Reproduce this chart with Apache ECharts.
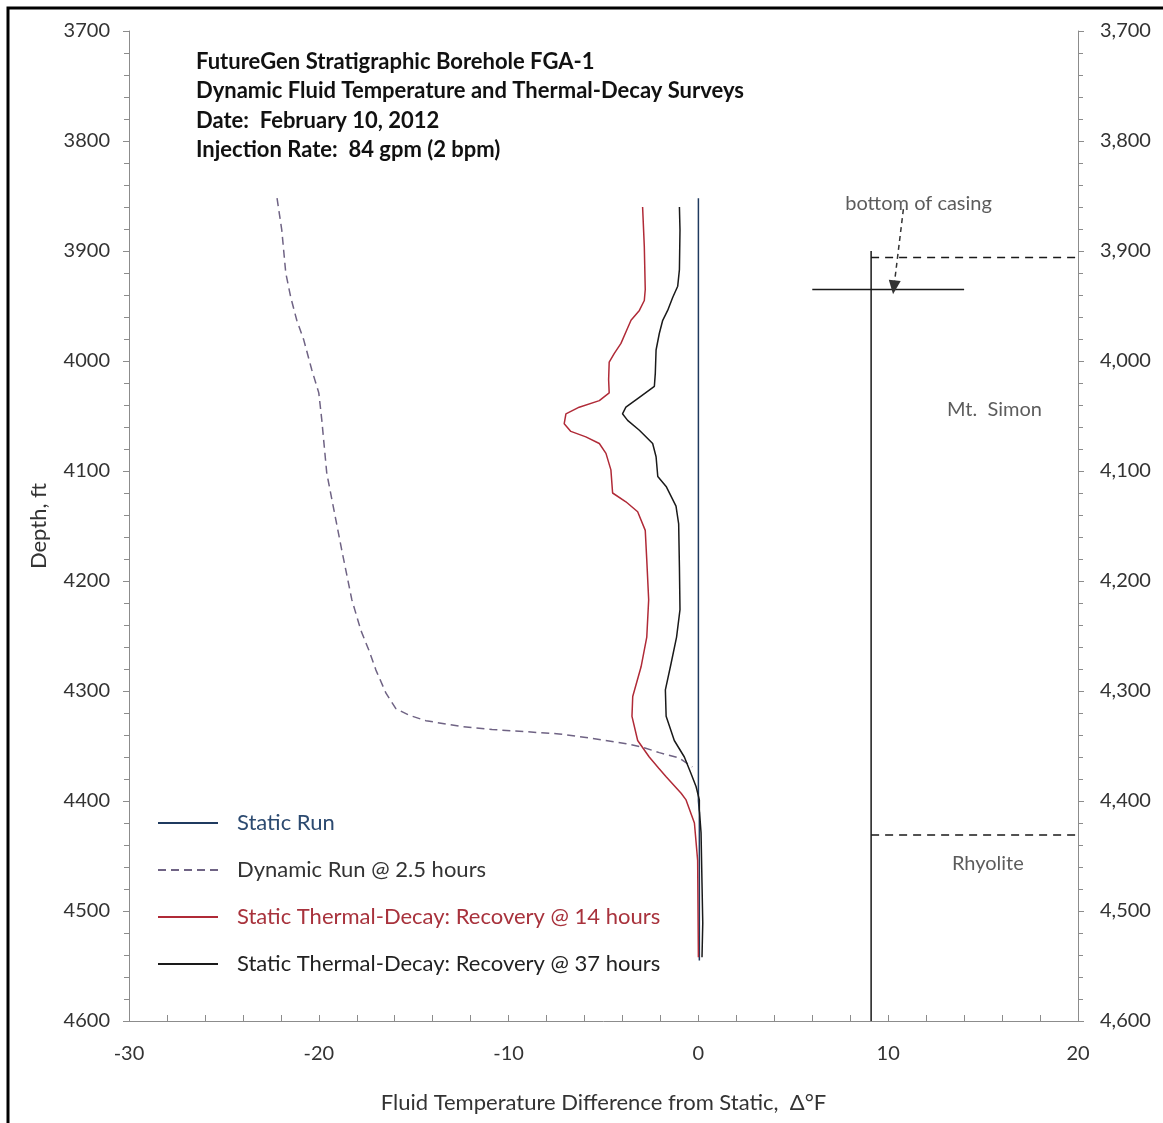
<!DOCTYPE html>
<html><head><meta charset="utf-8">
<script src="https://cdn.jsdelivr.net/npm/echarts@6/dist/echarts.min.js"></script>
<style>html,body{margin:0;padding:0;background:#fff}#c{width:1163px;height:1123px}</style>
</head><body><div id="c"></div>
<script>
// ---- data ----
const titleLines = ["FutureGen Stratigraphic Borehole FGA-1","Dynamic Fluid Temperature and Thermal-Decay Surveys","Date:  February 10, 2012","Injection Rate:  84 gpm (2 bpm)"];
const seriesNames = ["Static Run","Dynamic Run @ 2.5 hours","Static Thermal-Decay: Recovery @ 14 hours","Static Thermal-Decay: Recovery @ 37 hours"];

const staticDepth = [3852, 4400, 4410, 4545];
const staticVal   = [0, 0, 0.05, 0.05];

const dynDepth = [3852,3881,3920,3942,3963,3981,4008,4029,4054,4102,4126,4172,4217,4245,4263,4281,4302,4316,4322,4327,4332,4335,4337,4339,4343,4348,4351,4356,4361,4369];
const dynVal   = [-22.2,-21.95,-21.74,-21.48,-21.16,-20.79,-20.37,-20.0,-19.84,-19.58,-19.31,-18.79,-18.26,-17.78,-17.36,-16.99,-16.46,-15.94,-15.25,-14.35,-12.61,-10.87,-9.08,-7.34,-5.59,-3.80,-2.96,-2.06,-1.0,-0.32];

const r14Depth = [3860,3896,3935,3945,3954,3963,3972,3984,3993,4001,4017,4029,4036,4042,4048,4057,4064,4069,4075,4084,4099,4120,4128,4137,4154,4181,4217,4251,4278,4305,4323,4345,4360,4370,4378,4393,4399,4420,4454,4542];
const r14Val   = [-2.94,-2.85,-2.80,-2.85,-3.11,-3.55,-3.78,-4.08,-4.43,-4.70,-4.73,-4.70,-5.22,-6.28,-6.98,-7.07,-6.72,-5.93,-5.22,-4.87,-4.61,-4.52,-3.82,-3.20,-2.80,-2.72,-2.62,-2.72,-3.02,-3.46,-3.50,-3.20,-2.59,-2.1,-1.70,-0.91,-0.65,-0.21,-0.04,0.0];

const r37Depth = [3860,3881,3917,3932,3942,3954,3963,3975,3990,4011,4023,4033,4042,4048,4054,4063,4075,4087,4105,4114,4132,4148,4187,4226,4251,4275,4299,4323,4345,4360,4375,4387,4399,4408,4429,4475,4511,4542];
const r37Val   = [-1.0,-0.97,-1.0,-1.09,-1.35,-1.62,-1.88,-2.06,-2.23,-2.27,-2.32,-3.11,-3.82,-4.0,-3.73,-3.11,-2.41,-2.23,-2.14,-1.70,-1.18,-1.04,-1.0,-0.97,-1.15,-1.44,-1.74,-1.70,-1.27,-0.74,-0.39,-0.12,0.05,0.05,0.14,0.19,0.23,0.19];

// annotation values (data coordinates)
const formationX = 9.1, formationTop = 3900, depthMax = 4600, xMax = 20;
const boundaryDepths = [3906, 4431];
const casingDepth = 3935, casingFrom = 6, casingTo = 14;
const arrowFrom = [10.8, 3862], arrowTo = [10.3, 3933];
const annoLabels = [{text:"bottom of casing", x:11.6, d:3857},{text:"Mt.  Simon", x:15.6, d:4044},{text:"Rhyolite", x:15.25, d:4457}];

// ---- chart ----
const FONT = "Lato";
const zip = (v,d)=>v.map((x,i)=>[x,d[i]]);
const axisGray = '#8c8c8c';
const chart = echarts.init(document.getElementById('c'));

const series = [
  {name:seriesNames[0], type:'line', data:zip(staticVal,staticDepth), symbol:'none', lineStyle:{color:'#1f3a5f',width:1.5}, itemStyle:{color:'#1f3a5f'}, z:3},
  {name:seriesNames[1], type:'line', data:zip(dynVal,dynDepth), symbol:'none', lineStyle:{color:'#6f6384',width:1.5,type:[8,5]}, itemStyle:{color:'#6f6384'}},
  {name:seriesNames[2], type:'line', data:zip(r14Val,r14Depth), symbol:'none', lineStyle:{color:'#b02a37',width:1.5}, itemStyle:{color:'#b02a37'}},
  {name:seriesNames[3], type:'line', data:zip(r37Val,r37Depth), symbol:'none', lineStyle:{color:'#1a1a1a',width:1.5}, itemStyle:{color:'#1a1a1a'}},
  {name:'formation', type:'line', data:[[formationX,formationTop],[formationX,depthMax]], symbol:'none', lineStyle:{color:'#1a1a1a',width:1.5}, silent:true},
  {name:'casing', type:'line', data:[[casingFrom,casingDepth],[casingTo,casingDepth]], symbol:'none', lineStyle:{color:'#1a1a1a',width:1.5}, silent:true,
    markLine:{silent:true, symbol:['none','triangle'], symbolSize:[12,14], label:{show:false}, lineStyle:{color:'#333',type:[5,4],width:1.5},
      data:[[{coord:arrowFrom},{coord:arrowTo}]]}},
];
boundaryDepths.forEach((d,i)=>series.push({name:'bnd'+i, type:'line', data:[[formationX,d],[xMax,d]], symbol:'none', lineStyle:{color:'#1a1a1a',width:1.5,type:[8,6]}, silent:true}));
series.push({name:'labels', type:'scatter', symbolSize:0, silent:true,
  data:annoLabels.map(a=>({name:a.text, value:[a.x,a.d]})),
  label:{show:true, position:'inside', formatter:'{b}', color:'#333', fontFamily:FONT, fontSize:20}});

chart.setOption({
  animation:false,
  backgroundColor:'#fff',
  grid:{left:129, right:85, top:31, bottom:102},
  xAxis:{type:'value', min:-30, max:20, interval:10,
    name:'Fluid Temperature Difference from Static,  Δ°F', nameLocation:'middle', nameGap:71,
    nameTextStyle:{color:'#333', fontFamily:FONT, fontSize:22},
    axisLine:{onZero:false, lineStyle:{color:axisGray}}, splitLine:{show:false},
    axisTick:{inside:true, length:6, lineStyle:{color:axisGray}},
    minorTick:{show:true, splitNumber:5, length:6, lineStyle:{color:axisGray}},
    axisLabel:{color:'#333', fontFamily:FONT, fontSize:20, margin:23}},
  yAxis:[
    {type:'value', inverse:true, min:3700, max:4600, interval:100, position:'left',
      name:'Depth, ft', nameLocation:'middle', nameGap:79, nameRotate:90,
      nameTextStyle:{color:'#333', fontFamily:FONT, fontSize:22},
      axisLine:{show:true, onZero:false, lineStyle:{color:axisGray}}, splitLine:{show:false},
      axisTick:{show:true, length:6, lineStyle:{color:axisGray}},
      minorTick:{show:true, splitNumber:5, length:5, lineStyle:{color:axisGray}},
      axisLabel:{color:'#333', fontFamily:FONT, fontSize:20, margin:19, formatter:v=>String(v)}},
    {type:'value', inverse:true, min:3700, max:4600, interval:100, position:'right',
      axisLine:{show:true, onZero:false, lineStyle:{color:axisGray}}, splitLine:{show:false},
      axisTick:{show:true, length:6, lineStyle:{color:axisGray}},
      minorTick:{show:true, splitNumber:5, length:5, lineStyle:{color:axisGray}},
      axisLabel:{color:'#333', fontFamily:FONT, fontSize:20, margin:22, formatter:v=>v.toLocaleString('en-US')}}
  ],
  legend:{orient:'vertical', left:152, top:807, itemWidth:60, itemHeight:14, itemGap:25,
    itemStyle:{opacity:0},
    textStyle:{fontFamily:FONT, fontSize:22, padding:[0,0,0,14]},
    data:[
      {name:seriesNames[0], textStyle:{color:'#2c4a70'}},
      {name:seriesNames[1], textStyle:{color:'#333'}},
      {name:seriesNames[2], textStyle:{color:'#a8323c'}},
      {name:seriesNames[3], textStyle:{color:'#222'}}
    ]},
  graphic:[
    {type:'rect', shape:{x:8,y:8,width:1300,height:1300}, style:{fill:'none', stroke:'#000', lineWidth:3}, silent:true},
    ...titleLines.map((t,i)=>({type:'text', left:196, top:51+i*29.3, style:{text:t, fill:'#111', font:'bold 22px '+FONT}}))
  ],
  series: series
});
</script></body></html>
